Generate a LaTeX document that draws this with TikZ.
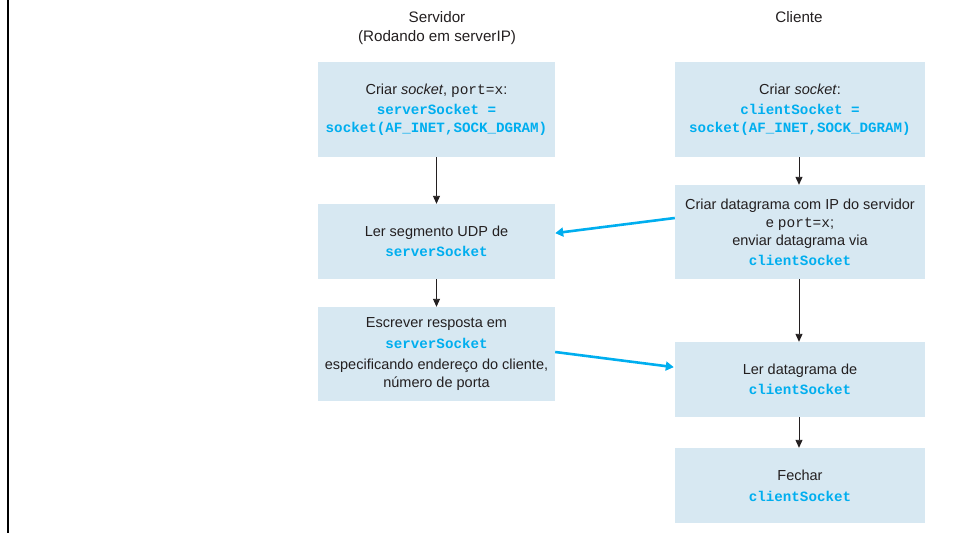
\documentclass[tikz,border=0pt]{standalone}
\usepackage{fontspec}
\setmainfont{Liberation Sans}
\setmonofont{Liberation Mono}
\usetikzlibrary{calc,arrows.meta}
\definecolor{boxfill}{HTML}{D7E8F2}
\definecolor{codeblue}{HTML}{00AEEF}
\definecolor{ink}{HTML}{231F20}
\newcommand{\cb}[1]{{\ttfamily\bfseries\color{codeblue}#1}}
\newcommand{\ct}[1]{{\ttfamily #1}}
\begin{document}
\begin{tikzpicture}[x=1pt,y=-1pt,
  box/.style={fill=boxfill, draw=none, minimum width=#1, align=center, inner sep=0pt,
    font=\fontsize{14.5}{18}\selectfont, text=ink},
  box/.default=237pt,
  head/.style={font=\fontsize{15.2}{18}\selectfont, text=ink, align=center},
  flow/.style={draw=ink, line width=0.9pt, -{Triangle[length=8pt,width=7pt]}},
  msg/.style={draw=codeblue, line width=2.6pt, -{Triangle[length=8pt,width=9pt]}, shorten >=-1pt}
]
\useasboundingbox (0,0) rectangle (954,533);
\draw[line width=2pt, draw=black] (8,0) coordinate (lt) -- (8,533) coordinate (lb);

\node[head] (hs) at (437,17) {Servidor};
\node[head] (hs2) at (437,38) {(Rodando em serverIP)};
\node[head] (hc) at (799,17) {Cliente};

% server boxes
\node[box, minimum height=95pt] (s1) at (436.5,109.5)
  {Criar \textit{socket}, \ct{port=x}:\\[2pt]
   \fontsize{14.2}{17}\selectfont\cb{serverSocket =}\\
   \fontsize{14.2}{17}\selectfont\cb{socket(AF\_INET,SOCK\_DGRAM)}};
\node[box, minimum height=75pt] (s2) at (436.5,241.5)
  {Ler segmento UDP de\\[2pt]
   \fontsize{14.2}{17}\selectfont\cb{serverSocket}};
\node[box, minimum height=94pt] (s3) at (436.5,354)
  {Escrever resposta em\\[3pt]
   \fontsize{14.2}{17}\selectfont\cb{serverSocket}\\[3pt]
   especificando endereço do cliente,\\
   número de porta};

% client boxes
\node[box=250pt, minimum height=95pt] (c1) at (800,109.5)
  {Criar \textit{socket}:\\[2pt]
   \fontsize{14.2}{17}\selectfont\cb{clientSocket =}\\
   \fontsize{14.2}{17}\selectfont\cb{socket(AF\_INET,SOCK\_DGRAM)}};
\node[box=250pt, minimum height=94pt] (c2) at (800,232)
  {Criar datagrama com IP do servidor\\
   e \ct{port=x};\\
   enviar datagrama via\\[2pt]
   \fontsize{14.2}{17}\selectfont\cb{clientSocket}};
\node[box=250pt, minimum height=75pt] (c3) at (800,379.5)
  {Ler datagrama de\\[2pt]
   \fontsize{14.2}{17}\selectfont\cb{clientSocket}};
\node[box=250pt, minimum height=75pt] (c4) at (800,485.5)
  {Fechar\\[3pt]
   \fontsize{14.2}{17}\selectfont\cb{clientSocket}};

% flow arrows
\draw[flow] (s1.south) -- (s2.north);
\draw[flow] (s2.south) -- (s3.north);
\draw[flow] ($(c1.south)+(-1,0)$) -- ($(c2.north)+(-1,0)$);
\draw[flow] ($(c2.south)+(-1,0)$) -- ($(c3.north)+(-1,0)$);
\draw[flow] ($(c3.south)+(-1,0)$) -- ($(c4.north)+(-1,0)$);

% message arrows
\draw[msg] ($(c2.west)+(0,-14)$) -- ($(s2.east)+(1,-8.5)$);
\draw[msg] ($(s3.east)+(0,-2)$) -- ($(c3.west)+(-2,-12.5)$);
\end{tikzpicture}
\end{document}
